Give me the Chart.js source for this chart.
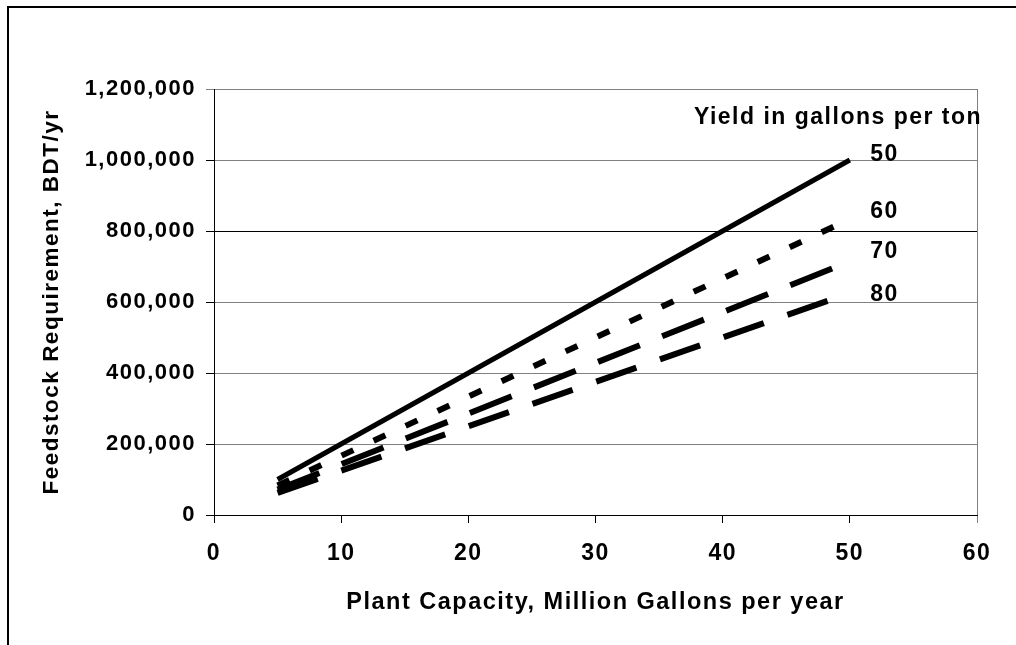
<!DOCTYPE html>
<html>
<head>
<meta charset="utf-8">
<script src="https://cdn.jsdelivr.net/npm/chart.js@4.4.1/dist/chart.umd.min.js"></script>
<style>
  html, body { margin: 0; padding: 0; background: #ffffff; overflow: hidden; }
  #frame { position: absolute; left: 7px; top: 6px; width: 1200px; height: 800px;
           border-left: 2px solid #000; border-top: 2px solid #000; z-index: 0; }
  #wrap { position: absolute; left: 0; top: 0; width: 1016px; height: 645px; z-index: 1; }
</style>
</head>
<body>
<div id="frame"></div>
<div id="wrap"><canvas id="c" width="1016" height="645"></canvas></div>
<script>
// ---- data ----
const capacity = [5, 10, 15, 20, 25, 30, 35, 40, 45, 50];      // Million gallons per year
const yield50 = [100000, 200000, 300000, 400000, 500000, 600000, 700000, 800000, 900000, 1000000];
const yield60 = [83333, 166667, 250000, 333333, 416667, 500000, 583333, 666667, 750000, 833333];
const yield70 = [71429, 142857, 214286, 285714, 357143, 428571, 500000, 571429, 642857, 714286];
const yield80 = [62500, 125000, 187500, 250000, 312500, 375000, 437500, 500000, 562500, 625000];
const seriesNames = ['50', '60', '70', '80'];
const xTicks = [0, 10, 20, 30, 40, 50, 60];
const yTicks = [0, 200000, 400000, 600000, 800000, 1000000, 1200000];
const legendTitle = 'Yield in gallons per ton';
const xTitle = 'Plant Capacity, Million Gallons per year';
const yTitle = 'Feedstock Requirement, BDT/yr';

const FONT = '"Liberation Sans", Arial, sans-serif';
const SPACING = '1.5px';

function pts(vals) { return capacity.map((c, i) => ({ x: c, y: vals[i] })); }

const spacingPlugin = {
  id: 'spacing',
  beforeUpdate(chart) { chart.ctx.letterSpacing = SPACING; },
  beforeLayout(chart) { chart.ctx.letterSpacing = SPACING; },
  beforeDraw(chart) { chart.ctx.letterSpacing = SPACING; }
};

const labelPlugin = {
  id: 'seriesLabels',
  afterDraw(chart) {
    const { ctx, scales } = chart;
    const xs = scales.x, ys = scales.y;
    ctx.save();
    ctx.letterSpacing = SPACING;
    ctx.fillStyle = '#000';
    ctx.font = 'bold 23px ' + FONT;
    ctx.textAlign = 'left';
    ctx.textBaseline = 'middle';
    ctx.fillText(legendTitle, xs.getPixelForValue(37.74), ys.getPixelForValue(1118000));
    const labelYs = [1014000, 853500, 740800, 619700];
    seriesNames.forEach((n, i) => {
      ctx.fillText(n, xs.getPixelForValue(51.6), ys.getPixelForValue(labelYs[i]));
    });
    ctx.restore();
  }
};

const ds = (label, vals, dash, width) => ({
  label, data: pts(vals), borderColor: '#000', backgroundColor: '#000',
  borderWidth: width, borderDash: dash, pointRadius: 0, tension: 0, fill: false,
  borderCapStyle: 'butt', borderJoinStyle: 'miter'
});

new Chart(document.getElementById('c'), {
  type: 'line',
  data: {
    datasets: [
      ds(seriesNames[0], yield50, [], 5),
      ds(seriesNames[1], yield60, [13, 22.3], 6),
      ds(seriesNames[2], yield70, [45, 24], 6),
      ds(seriesNames[3], yield80, [42.5, 25], 6)
    ]
  },
  plugins: [spacingPlugin, labelPlugin],
  options: {
    responsive: false,
    animation: false,
    devicePixelRatio: 1,
    layout: { padding: { top: 89, right: 39, left: 0, bottom: 0 } },
    plugins: { legend: { display: false }, tooltip: { enabled: false } },
    scales: {
      x: {
        type: 'linear', min: 0, max: 60,
        afterBuildTicks(s) { s.ticks = xTicks.map(v => ({ value: v })); },
        afterFit(s) { s.height = 130; },
        border: { display: true, color: '#000', width: 1 },
        grid: {
          drawOnChartArea: true,
          color: c => (c.tick && c.tick.value === 60) ? '#808080' : 'rgba(0,0,0,0)',
          tickColor: c => (c.tick && c.tick.value === 60) ? '#808080' : '#000',
          tickLength: 8, lineWidth: 1
        },
        ticks: { color: '#000', font: { family: FONT, size: 23, weight: 'bold' }, padding: 17, maxRotation: 0 },
        title: { display: true, text: xTitle, color: '#000',
                 font: { family: FONT, size: 23.5, weight: 'bold' }, padding: { top: 0, bottom: 28 } }
      },
      y: {
        type: 'linear', min: 0, max: 1200000,
        afterBuildTicks(s) { s.ticks = yTicks.map(v => ({ value: v })); },
        afterFit(s) { s.width = 214; },
        border: { display: true, color: '#000', width: 1 },
        grid: {
          color: c => (c.tick && c.tick.value === 800000) ? '#000' : '#808080',
          tickColor: c => (c.tick && c.tick.value === 1200000) ? '#808080' : '#000',
          tickLength: 8, lineWidth: 1
        },
        ticks: { color: '#000', font: { family: FONT, size: 22, weight: 'bold' }, padding: 10,
                 callback: v => Number(v).toLocaleString('en-US') },
        title: { display: true, text: yTitle, color: '#000',
                 font: { family: FONT, size: 22.5, weight: 'bold' }, padding: { top: 38, bottom: 0 } }
      }
    }
  }
});
</script>
</body>
</html>
